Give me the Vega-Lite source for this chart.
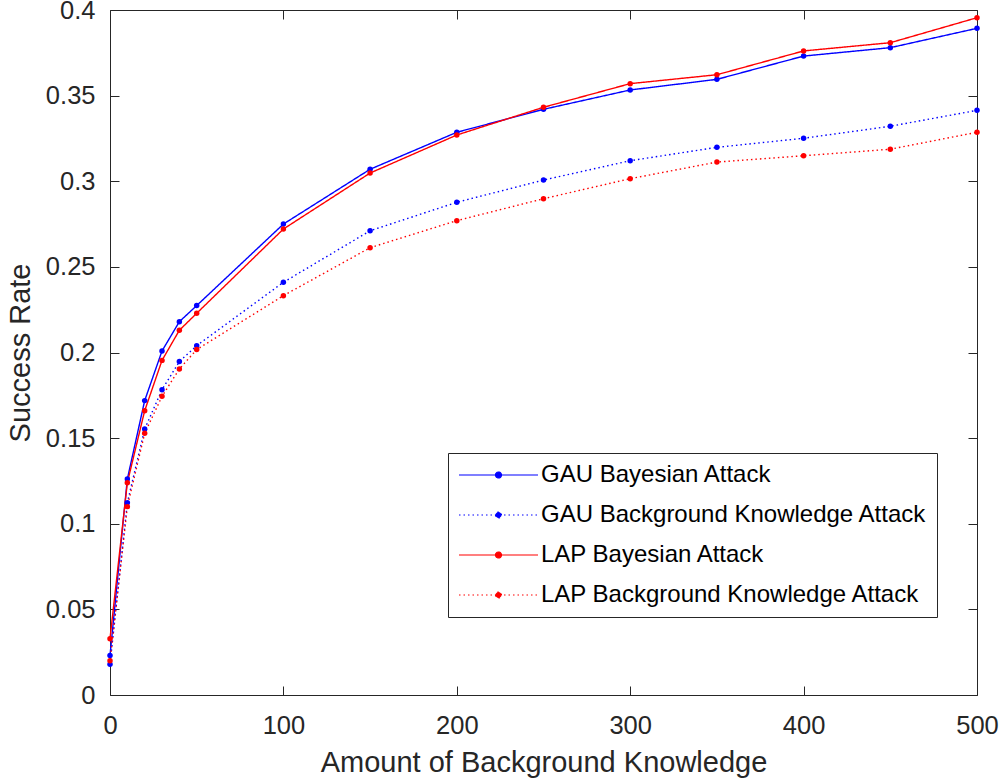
{
  "$schema": "https://vega.github.io/schema/vega-lite/v6.json",
  "width": 867,
  "height": 685,
  "autosize": {"type": "none"},
  "padding": {"left": 110, "top": 10, "right": 25, "bottom": 85},
  "background": "white",
  "config": {
    "view": {"stroke": null},
    "font": "Liberation Sans",
    "axis": {
      "grid": false,
      "domainColor": "#262626",
      "domainWidth": 1,
      "tickColor": "#262626",
      "tickWidth": 1,
      "tickSize": -9,
      "labelColor": "#262626",
      "labelFont": "Liberation Sans",
      "labelFontSize": 25.5,
      "labelFlush": false,
      "labelOverlap": false,
      "titleFont": "Liberation Sans",
      "titleFontSize": 29,
      "titleFontWeight": "normal",
      "titleColor": "#262626"
    }
  },
  "data": {
    "values": [
      {"x": 0, "y": 0.0230, "series": "GAU Bayesian Attack"},
      {"x": 10, "y": 0.1261, "series": "GAU Bayesian Attack"},
      {"x": 20, "y": 0.1719, "series": "GAU Bayesian Attack"},
      {"x": 30, "y": 0.2009, "series": "GAU Bayesian Attack"},
      {"x": 40, "y": 0.2180, "series": "GAU Bayesian Attack"},
      {"x": 50, "y": 0.2274, "series": "GAU Bayesian Attack"},
      {"x": 100, "y": 0.2750, "series": "GAU Bayesian Attack"},
      {"x": 150, "y": 0.3070, "series": "GAU Bayesian Attack"},
      {"x": 200, "y": 0.3286, "series": "GAU Bayesian Attack"},
      {"x": 250, "y": 0.3420, "series": "GAU Bayesian Attack"},
      {"x": 300, "y": 0.3533, "series": "GAU Bayesian Attack"},
      {"x": 350, "y": 0.3595, "series": "GAU Bayesian Attack"},
      {"x": 400, "y": 0.3731, "series": "GAU Bayesian Attack"},
      {"x": 450, "y": 0.3780, "series": "GAU Bayesian Attack"},
      {"x": 500, "y": 0.3893, "series": "GAU Bayesian Attack"},
      {"x": 0, "y": 0.0179, "series": "GAU Background Knowledge Attack"},
      {"x": 10, "y": 0.1123, "series": "GAU Background Knowledge Attack"},
      {"x": 20, "y": 0.1553, "series": "GAU Background Knowledge Attack"},
      {"x": 30, "y": 0.1783, "series": "GAU Background Knowledge Attack"},
      {"x": 40, "y": 0.1947, "series": "GAU Background Knowledge Attack"},
      {"x": 50, "y": 0.2040, "series": "GAU Background Knowledge Attack"},
      {"x": 100, "y": 0.2410, "series": "GAU Background Knowledge Attack"},
      {"x": 150, "y": 0.2711, "series": "GAU Background Knowledge Attack"},
      {"x": 200, "y": 0.2877, "series": "GAU Background Knowledge Attack"},
      {"x": 250, "y": 0.3007, "series": "GAU Background Knowledge Attack"},
      {"x": 300, "y": 0.3120, "series": "GAU Background Knowledge Attack"},
      {"x": 350, "y": 0.3198, "series": "GAU Background Knowledge Attack"},
      {"x": 400, "y": 0.3251, "series": "GAU Background Knowledge Attack"},
      {"x": 450, "y": 0.3321, "series": "GAU Background Knowledge Attack"},
      {"x": 500, "y": 0.3414, "series": "GAU Background Knowledge Attack"},
      {"x": 0, "y": 0.0329, "series": "LAP Bayesian Attack"},
      {"x": 10, "y": 0.1240, "series": "LAP Bayesian Attack"},
      {"x": 20, "y": 0.1660, "series": "LAP Bayesian Attack"},
      {"x": 30, "y": 0.1954, "series": "LAP Bayesian Attack"},
      {"x": 40, "y": 0.2130, "series": "LAP Bayesian Attack"},
      {"x": 50, "y": 0.2229, "series": "LAP Bayesian Attack"},
      {"x": 100, "y": 0.2721, "series": "LAP Bayesian Attack"},
      {"x": 150, "y": 0.3048, "series": "LAP Bayesian Attack"},
      {"x": 200, "y": 0.3270, "series": "LAP Bayesian Attack"},
      {"x": 250, "y": 0.3432, "series": "LAP Bayesian Attack"},
      {"x": 300, "y": 0.3570, "series": "LAP Bayesian Attack"},
      {"x": 350, "y": 0.3622, "series": "LAP Bayesian Attack"},
      {"x": 400, "y": 0.3761, "series": "LAP Bayesian Attack"},
      {"x": 450, "y": 0.3809, "series": "LAP Bayesian Attack"},
      {"x": 500, "y": 0.3955, "series": "LAP Bayesian Attack"},
      {"x": 0, "y": 0.0200, "series": "LAP Background Knowledge Attack"},
      {"x": 10, "y": 0.1100, "series": "LAP Background Knowledge Attack"},
      {"x": 20, "y": 0.1528, "series": "LAP Background Knowledge Attack"},
      {"x": 30, "y": 0.1744, "series": "LAP Background Knowledge Attack"},
      {"x": 40, "y": 0.1904, "series": "LAP Background Knowledge Attack"},
      {"x": 50, "y": 0.2017, "series": "LAP Background Knowledge Attack"},
      {"x": 100, "y": 0.2332, "series": "LAP Background Knowledge Attack"},
      {"x": 150, "y": 0.2612, "series": "LAP Background Knowledge Attack"},
      {"x": 200, "y": 0.2770, "series": "LAP Background Knowledge Attack"},
      {"x": 250, "y": 0.2898, "series": "LAP Background Knowledge Attack"},
      {"x": 300, "y": 0.3015, "series": "LAP Background Knowledge Attack"},
      {"x": 350, "y": 0.3112, "series": "LAP Background Knowledge Attack"},
      {"x": 400, "y": 0.3149, "series": "LAP Background Knowledge Attack"},
      {"x": 450, "y": 0.3187, "series": "LAP Background Knowledge Attack"},
      {"x": 500, "y": 0.3286, "series": "LAP Background Knowledge Attack"}
    ]
  },
  "layer": [
    {
      "mark": {"type": "line", "strokeWidth": 1.4, "point": {"filled": true, "size": 30}},
      "encoding": {
        "x": {
          "field": "x", "type": "quantitative",
          "scale": {"domain": [0, 500], "nice": false},
          "axis": {"title": "Amount of Background Knowledge", "values": [0, 100, 200, 300, 400, 500], "labelPadding": 27, "titlePadding": 10}
        },
        "y": {
          "field": "y", "type": "quantitative",
          "scale": {"domain": [0, 0.4], "nice": false, "zero": false},
          "axis": {"title": "Success Rate", "values": [0, 0.05, 0.1, 0.15, 0.2, 0.25, 0.3, 0.35, 0.4], "format": "~g", "labelPadding": 24, "titlePadding": 10}
        },
        "color": {
          "field": "series", "type": "nominal",
          "sort": ["GAU Bayesian Attack", "GAU Background Knowledge Attack", "LAP Bayesian Attack", "LAP Background Knowledge Attack"],
          "scale": {
            "domain": ["GAU Bayesian Attack", "GAU Background Knowledge Attack", "LAP Bayesian Attack", "LAP Background Knowledge Attack"],
            "range": ["#0000ff", "#0000ff", "#ff0000", "#ff0000"]
          },
          "legend": {
            "title": null,
            "orient": "none",
            "legendX": 338,
            "legendY": 443,
            "strokeColor": "#262626",
            "fillColor": "white",
            "padding": 10,
            "labelFontSize": 24,
            "labelFont": "Liberation Sans",
            "labelColor": "#000000",
            "symbolType": "M-1.1,0H6.8M2.55,0a0.3,0.3 0 1,0 0.6,0a0.3,0.3 0 1,0 -0.6,0",
            "symbolSize": 400,
            "symbolStrokeWidth": 1.2,
            "labelOffset": 59,
            "rowPadding": 16,
            "labelLimit": 600,
            "encode": {"symbols": {"update": {"fill": {"scale": "color", "field": "value"}}}}
          }
        },
        "strokeDash": {
          "field": "series", "type": "nominal",
          "scale": {
            "domain": ["GAU Bayesian Attack", "GAU Background Knowledge Attack", "LAP Bayesian Attack", "LAP Background Knowledge Attack"],
            "range": [[1, 0], [1.5, 3], [1, 0], [1.5, 3]]
          },
          "legend": {
            "title": null,
            "orient": "none",
            "legendX": 338,
            "legendY": 443,
            "strokeColor": "#262626",
            "fillColor": "white",
            "padding": 10,
            "labelFontSize": 24,
            "labelFont": "Liberation Sans",
            "labelColor": "#000000",
            "symbolType": "M-1.1,0H6.8M2.55,0a0.3,0.3 0 1,0 0.6,0a0.3,0.3 0 1,0 -0.6,0",
            "symbolSize": 400,
            "symbolStrokeWidth": 1.2,
            "labelOffset": 59,
            "rowPadding": 16,
            "labelLimit": 600,
            "encode": {"symbols": {"update": {"fill": {"scale": "color", "field": "value"}}}}
          }
        }
      }
    },
    {
      "mark": {"type": "line", "opacity": 0},
      "encoding": {
        "x": {"field": "x", "type": "quantitative", "axis": {"orient": "top", "labels": false, "title": null, "values": [0, 100, 200, 300, 400, 500]}},
        "y": {"field": "y", "type": "quantitative", "axis": {"orient": "right", "labels": false, "title": null, "values": [0, 0.05, 0.1, 0.15, 0.2, 0.25, 0.3, 0.35, 0.4]}},
        "detail": {"field": "series"}
      }
    }
  ],
  "resolve": {"axis": {"x": "independent", "y": "independent"}}
}
